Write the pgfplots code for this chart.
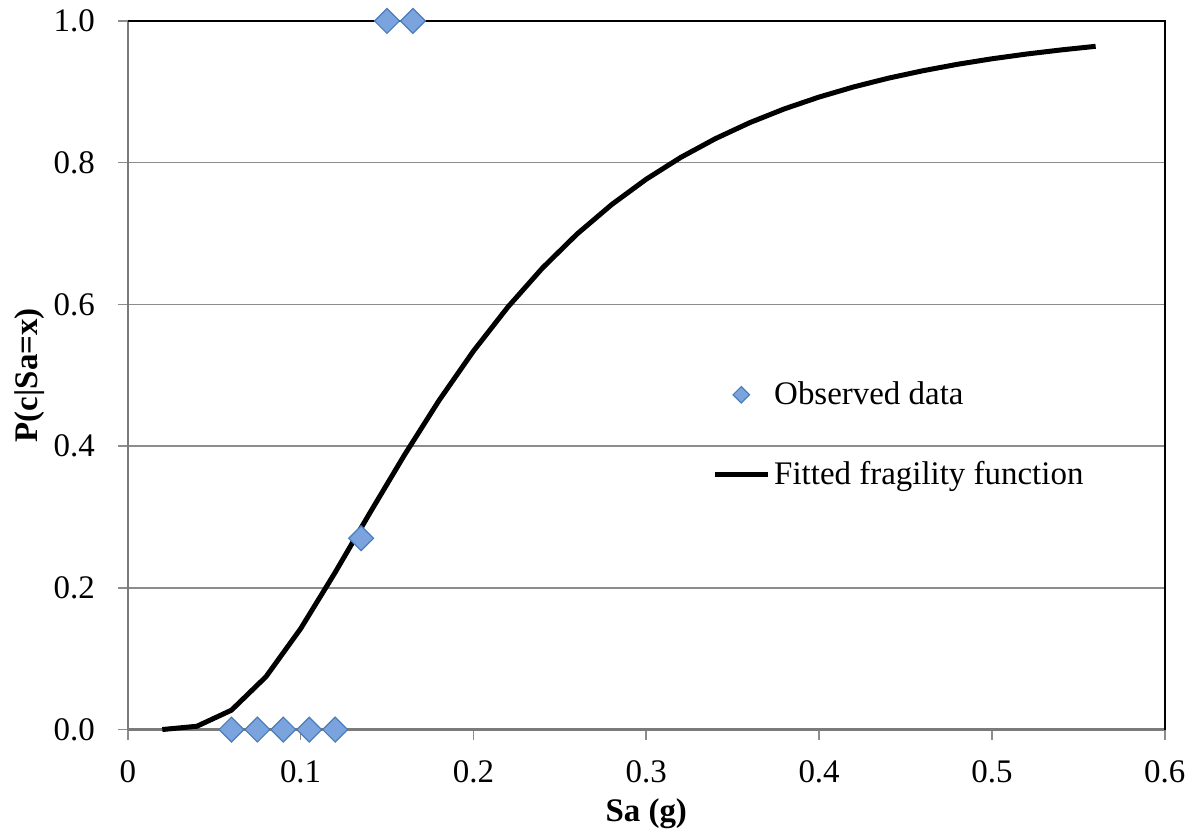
\documentclass[border=0pt]{standalone}
\usepackage{fontspec}
\setmainfont{Liberation Serif}
\usepackage{pgfplots}
\pgfplotsset{compat=1.18}
\definecolor{mkfill}{HTML}{7BA3DE}
\definecolor{mkdraw}{HTML}{4A7EBB}
\definecolor{gridc}{HTML}{8C8C8C}
\definecolor{axisc}{HTML}{7A7A7A}
\pgfplotsset{
  linelegend/.style={legend image code/.code={\draw[##1] (0pt,0pt) -- (26.5pt,0pt);}},
  marklegend/.style={legend image code/.code={\draw[##1, mark size=2.9pt] plot coordinates {(13.25pt,0pt)};}},
}
\begin{document}
\begin{tikzpicture}
\begin{axis}[
  scale only axis,
  width=519.5pt, height=355pt,
  xmin=0, xmax=0.6, ymin=0, ymax=1.0,
  axis x line*=bottom, axis y line*=left,
  xtick={0,0.1,0.2,0.3,0.4,0.5,0.6},
  ytick={0,0.2,0.4,0.6,0.8,1.0},
  /pgf/number format/assume math mode=true,
  yticklabel={\pgfmathprintnumber[fixed,fixed zerofill,precision=1]{\tick}},
  xticklabel={\pgfmathprintnumber[fixed,precision=1]{\tick}},
  ticklabel style={font=\fontsize{16.5}{18}\selectfont},
  yticklabel style={xshift=-8pt},
  xticklabel style={yshift=-7pt},
  tick align=outside,
  major tick length=5pt,
  tick style={gridc, line width=0.8pt},
  ymajorgrids,
  major grid style={gridc, line width=0.7pt},
  axis line style={axisc, line width=1.2pt, -},
  xlabel={\textbf{Sa (g)}},
  ylabel={\textbf{P(c|Sa=x)}},
  label style={font=\fontsize{16.5}{18}\selectfont},
  ylabel style={yshift=-2.5pt},
  xlabel style={yshift=-1pt},
  clip=false,
  reverse legend,
  legend style={draw=none, fill=none, inner sep=0pt,
    at={(axis cs:0.338,0.416)}, anchor=west,
    font=\fontsize{16.5}{18}\selectfont,
    row sep=23pt},
  legend cell align=left,
]
\draw[black, line width=1pt] (rel axis cs:0,1) -- (rel axis cs:1,1) -- (rel axis cs:1,0);
\addplot[black, line width=2.5pt, linelegend]
  coordinates {
  (0.02,0.0001)(0.04,0.0047)(0.06,0.0274)(0.08,0.0747)(0.10,0.1423)
  (0.12,0.2218)(0.14,0.3054)(0.16,0.3871)(0.18,0.4641)(0.20,0.5341)
  (0.22,0.5965)(0.24,0.6515)(0.26,0.6994)(0.28,0.7409)(0.30,0.7767)
  (0.32,0.8075)(0.34,0.8339)(0.36,0.8566)(0.38,0.8760)(0.40,0.8926)
  (0.42,0.9069)(0.44,0.9192)(0.46,0.9297)(0.48,0.9388)(0.50,0.9466)
  (0.52,0.9533)(0.54,0.9591)(0.56,0.9642)};
\addlegendentry{Fitted fragility function}
\addplot[only marks, mark=square*, mark size=4.4pt,
  mark options={rotate=45, fill=mkfill, draw=mkdraw, line width=0.6pt},
  marklegend]
  coordinates {
  (0.06,0)(0.075,0)(0.09,0)(0.105,0)(0.12,0)(0.135,0.27)(0.15,1)(0.165,1)};
\addlegendentry{Observed data}
\end{axis}
\path (current axis.south west) ++(-64pt,-51pt)
      (current axis.north east) ++(12.5pt,10.5pt);
\end{tikzpicture}
\end{document}
